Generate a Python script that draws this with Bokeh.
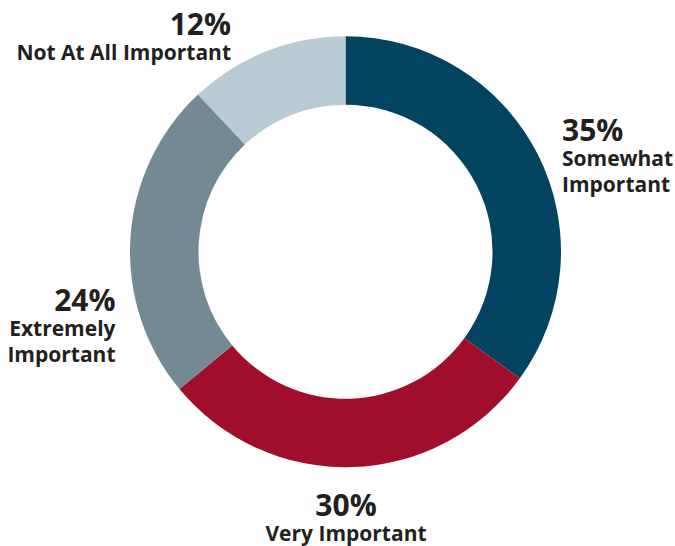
import math
from bokeh.plotting import figure
from bokeh.models import ColumnDataSource, Range1d
from bokeh.core.properties import value
from bokeh.embed import file_html
from bokeh.resources import INLINE

# ---- data (clockwise from 12 o'clock) ----
categories = ["Somewhat Important", "Very Important", "Extremely Important", "Not At All Important"]
shares = [35, 29, 24, 12]          # wedge sizes
pct_labels = ["35%", "30%", "24%", "12%"]
name_lines = [["Somewhat", "Important"], ["Very Important"], ["Extremely", "Important"], ["Not At All Important"]]
colors = ["#02445f", "#a10e2b", "#738a95", "#b8cad4"]

# ---- layout ----
W, H = 675, 546
CX, CY = 345, 294.8
R_OUT, R_IN = 215.5, 147
PCT_SIZE, NAME_SIZE = "30px", "21px"
TEXT_COLOR = "#231f20"
TEXT_SHIFT = 10
# label anchors relative to centre: (dx, dy of percent baseline, align)
label_layout = [
    (216.5, 112.7, "left"),
    (0.5, -262.8, "center"),
    (-230.0, -57.3, "right"),
    (-114.5, 218.2, "right"),
]
PCT_TO_NAME = 28.5
LINE_GAP = 26.3

total = sum(shares)
starts, ends = [], []
cum = 0
for s in shares:
    starts.append(math.pi / 2 - 2 * math.pi * cum / total)
    cum += s
    ends.append(math.pi / 2 - 2 * math.pi * cum / total)

src = ColumnDataSource(dict(x=[CX] * 4, y=[CY] * 4, start=starts, end=ends, color=colors, cat=categories))

p = figure(width=W, height=H, output_backend="svg", toolbar_location=None,
           x_range=Range1d(0, W), y_range=Range1d(0, H), min_border=0)
p.axis.visible = False
p.grid.visible = False
p.outline_line_color = None
p.background_fill_color = "white"
p.border_fill_color = "white"

p.annular_wedge(x="x", y="y", inner_radius=R_IN, outer_radius=R_OUT,
                start_angle="start", end_angle="end", direction="clock",
                fill_color="color", line_color=None, source=src)

for (dx, dy, align), pct, lines in zip(label_layout, pct_labels, name_lines):
    x = CX + dx
    y = CY + dy + TEXT_SHIFT
    p.text(x=[x], y=[y], text=[pct], text_font=value("Open Sans"), text_font_style="bold",
           text_font_size=PCT_SIZE, text_color=TEXT_COLOR, text_align=align,
           text_baseline="alphabetic")
    for i, ln in enumerate(lines):
        p.text(x=[x], y=[y - PCT_TO_NAME - i * LINE_GAP], text=[ln], text_font=value("Open Sans"),
               text_font_style="bold", text_font_size=NAME_SIZE, text_color=TEXT_COLOR,
               text_align=align, text_baseline="alphabetic")

open("out.html", "w").write(file_html(p, INLINE))
